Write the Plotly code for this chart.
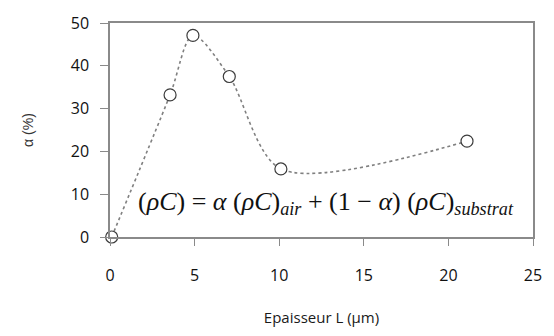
import plotly.graph_objects as go

# Layer thickness (µm) and air fraction alpha (%)
thickness = [0.1, 3.55, 4.9, 7.05, 10.1, 21.1]
alpha_pct = [0.0, 33.2, 47.1, 37.5, 15.9, 22.4]

x_ticks = [0, 5, 10, 15, 20, 25]
y_ticks = [0, 10, 20, 30, 40, 50]

axis_grey = "#8a8a8a"
tick_font = dict(family="Open Sans, Liberation Sans, sans-serif", size=16, color="#111111")

fig = go.Figure()
fig.add_trace(go.Scatter(
    x=thickness, y=alpha_pct,
    mode="lines+markers",
    line=dict(shape="spline", smoothing=0.85, color="#808080", width=1.6, dash="dot"),
    marker=dict(symbol="circle", size=12, color="white",
                line=dict(color="#3c3c3c", width=1.2)),
    cliponaxis=False,
    showlegend=False,
))

fig.add_annotation(
    x=0.51, y=0.16, xref="paper", yref="paper",
    text="(<i>ρC</i>) = <i>α</i> (<i>ρC</i>)<sub><i>air</i></sub> + (1 − <i>α</i>) (<i>ρC</i>)<sub><i>substrat</i></sub>",
    showarrow=False,
    font=dict(family="Liberation Serif, Times New Roman, serif", size=26, color="#111111"),
    xanchor="center", yanchor="middle",
)

fig.update_xaxes(
    range=[0, 25], tickvals=x_ticks, showgrid=False, zeroline=False,
    showline=True, linecolor=axis_grey, linewidth=1.5, mirror=True,
    ticks="outside", ticklen=7, tickcolor=axis_grey, tickwidth=1.2,
    tickfont=tick_font, ticklabelstandoff=16,
    title=dict(text="Epaisseur L (µm)", standoff=28,
               font=dict(family="Open Sans, Liberation Sans, sans-serif", size=15, color="#1a1a1a")),
)
fig.update_yaxes(
    range=[0, 50], tickvals=y_ticks, showgrid=False, zeroline=False,
    showline=True, linecolor=axis_grey, linewidth=1.5, mirror=True,
    ticks="outside", ticklen=8, tickcolor=axis_grey, tickwidth=1.2,
    tickfont=tick_font, ticklabelstandoff=8,
    title=dict(text="α (%)", standoff=34,
               font=dict(family="Liberation Sans, sans-serif", size=14, color="#333333")),
)

fig.update_layout(
    width=554, height=336,
    margin=dict(l=110, r=21, t=15, b=98),
    paper_bgcolor="white", plot_bgcolor="white",
)

fig.write_html("out.html")
